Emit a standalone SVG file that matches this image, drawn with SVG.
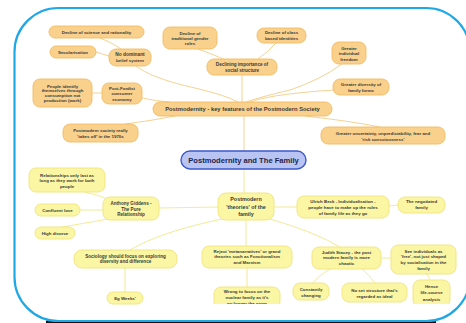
<svg xmlns="http://www.w3.org/2000/svg" width="466" height="323" viewBox="0 0 466 323">
<style>
text{font-family:"Liberation Sans",Arial,sans-serif;font-weight:bold;fill:#3a3a3a;text-anchor:middle;font-size:4.4px}
.o rect{fill:#f9d18c;stroke:#f2bb62;stroke-width:0.9}
.y rect{fill:#fbf6a4;stroke:#f0e47a;stroke-width:0.9}
.c rect{fill:#b9c4f2;stroke:#3c58cf;stroke-width:1.4}
.lo{fill:none;stroke:#f0c676;stroke-width:0.8}
.ly{fill:none;stroke:#efe47c;stroke-width:0.8}
</style>
<defs>
<clipPath id="cut"><rect x="0" y="0" width="466" height="304"/></clipPath>
</defs>
<rect x="0" y="0" width="466" height="323" fill="#fff"/>
<rect x="46" y="320.5" width="390" height="2.5" fill="#111"/>
<rect x="14.5" y="8" width="455.5" height="313" rx="44" fill="#fff" stroke="#1ea8e8" stroke-width="2.2"/>

<g id="connectors">
<path class="lo" d="M100 38 Q115 44 122 50"/>
<path class="lo" d="M96 52 L109 56"/>
<path class="lo" d="M135 65 Q150 78 195 88 Q225 95 238 102"/>
<path class="lo" d="M198 49 Q215 55 225 60"/>
<path class="lo" d="M276 43 Q268 52 258 59"/>
<path class="lo" d="M242 75 L242 102"/>
<path class="lo" d="M342 64 Q320 80 290 90 Q260 97 246 102"/>
<path class="lo" d="M335 90 Q300 92 275 96 Q258 99 250 102"/>
<path class="lo" d="M142 98 Q155 101 170 102"/>
<path class="lo" d="M92 93 L102 93"/>
<path class="lo" d="M175 116 Q150 121 125 124"/>
<path class="lo" d="M305 116 Q350 121 380 127"/>
<path class="lo" d="M244 116 L244 151"/>
<path class="ly" d="M244 169 L244 193"/>
<path class="ly" d="M218 207 L159 208"/>
<path class="ly" d="M108 199 Q95 194 85 192"/>
<path class="ly" d="M103 210 L80 210"/>
<path class="ly" d="M108 219 Q80 224 62 227"/>
<path class="ly" d="M274 207 L297 207"/>
<path class="ly" d="M389 206 L398 205"/>
<path class="ly" d="M222 219 Q160 232 130 250"/>
<path class="ly" d="M125 268 L125 292"/>
<path class="ly" d="M246 220 L246 246"/>
<path class="ly" d="M247 268 L247 287"/>
<path class="ly" d="M270 219 Q315 232 340 247"/>
<path class="ly" d="M381 258 L391 258"/>
<path class="ly" d="M330 269 Q318 276 313 283"/>
<path class="ly" d="M362 269 Q370 276 375 283"/>
<path class="ly" d="M427 274 L430 280"/>
</g>

<g id="n-science" class="o"><rect x="49" y="26" width="95" height="12" rx="6"/><text x="96.5" y="33.6">Decline of science and rationality</text></g>
<g id="n-secular" class="o"><rect x="50" y="46" width="46" height="12" rx="6"/><text x="73" y="53.6">Secularisation</text></g>
<g id="n-belief" class="o"><rect x="109" y="49" width="42" height="17" rx="7"/><text x="130" y="55.5" style="font-size:4.8px">No dominant</text><text x="130" y="62">belief system</text></g>
<g id="n-gender" class="o"><rect x="163" y="27" width="54" height="22" rx="7"/><text x="190" y="34.5">Decline of</text><text x="190" y="39.5">traditional gender</text><text x="190" y="44.5">roles</text></g>
<g id="n-social" class="o"><rect x="207" y="59" width="70" height="16" rx="7"/><text x="242" y="65.6" style="font-size:4.6px">Declining importance of</text><text x="242" y="71.6" style="font-size:4.6px">social structure</text></g>
<g id="n-class" class="o"><rect x="257" y="28" width="49" height="15" rx="7"/><text x="281.5" y="34">Decline of class</text><text x="281.5" y="40">based identities</text></g>
<g id="n-freedom" class="o"><rect x="332" y="42" width="34" height="22" rx="7"/><text x="349" y="49.5">Greater</text><text x="349" y="55.3">individual</text><text x="349" y="61.1">freedom</text></g>
<g id="n-diversity" class="o"><rect x="333" y="79" width="56" height="16" rx="7"/><text x="361" y="86.2">Greater diversity of</text><text x="361" y="91.6">family forms</text></g>
<g id="n-keyfeatures" class="o"><rect x="153" y="102" width="179" height="14" rx="7"/><text x="242.5" y="111.1" style="font-size:5.8px">Postmodernity - key features of the Postmodern Society</text></g>
<g id="n-identify" class="o"><rect x="33" y="79" width="59" height="28" rx="7"/><text x="62.5" y="87.6">People identify</text><text x="62.5" y="92.3">themselves through</text><text x="62.5" y="97">consumption not</text><text x="62.5" y="101.7">production (work)</text></g>
<g id="n-fordist" class="o"><rect x="102" y="83" width="40" height="21" rx="7"/><text x="122" y="89.6">Post-Fordist</text><text x="122" y="95.1">consumer</text><text x="122" y="100.6">economy</text></g>
<g id="n-1970s" class="o"><rect x="63" y="124" width="75" height="18" rx="7"/><text x="100.5" y="131.6">Postmodern society really</text><text x="100.5" y="137.6">'takes off' in the 1970s</text></g>
<g id="n-uncertainty" class="o"><rect x="321" y="127" width="124" height="17" rx="7"/><text x="383" y="134.6">Greater uncertainty, unpredictability, fear and</text><text x="383" y="140.6">'risk consciousness'</text></g>

<g id="n-center" class="c"><rect x="181" y="151" width="125" height="18" rx="9"/><text x="243.5" y="162.7" style="font-size:7.6px;fill:#1c2450">Postmodernity and The Family</text></g>

<g id="n-relationships" class="y"><rect x="29" y="168" width="76" height="24" rx="7"/><text x="67" y="176.6">Relationships only last as</text><text x="67" y="182.1">long as they work for both</text><text x="67" y="187.6">people</text></g>
<g id="n-giddens" class="y"><rect x="103" y="197" width="56" height="23" rx="7"/><text x="131" y="205" style="font-size:4.6px">Anthony Giddens -</text><text x="131" y="210.7" style="font-size:4.6px">The Pure</text><text x="131" y="216.4" style="font-size:4.6px">Relationship</text></g>
<g id="n-confluent" class="y"><rect x="35" y="204" width="45" height="12" rx="6"/><text x="57.5" y="211.6">Confluent love</text></g>
<g id="n-divorce" class="y"><rect x="35" y="227" width="40" height="12" rx="6"/><text x="55" y="234.6">High divorce</text></g>
<g id="n-theories" class="y"><rect x="218" y="193" width="56" height="27" rx="8"/><text x="246" y="201.4" style="font-size:5.4px">Postmodern</text><text x="246" y="208.7" style="font-size:5.4px">'theories' of the</text><text x="246" y="216" style="font-size:5.4px">family</text></g>
<g id="n-beck" class="y"><rect x="297" y="196" width="92" height="22" rx="7"/><text x="343" y="202.5">Ulrich Beck - Individualisation -</text><text x="343" y="208.5">people have to make up the rules</text><text x="343" y="214.5">of family life as they go</text></g>
<g id="n-negotiated" class="y"><rect x="398" y="197" width="47" height="16" rx="7"/><text x="421.5" y="203">The negotiated</text><text x="421.5" y="208.6">family</text></g>
<g id="n-sociology" class="y"><rect x="74" y="250" width="103" height="18" rx="8"/><text x="125.5" y="257.6" style="font-size:4.6px">Sociology should focus on exploring</text><text x="125.5" y="263.3" style="font-size:4.6px">diversity and difference</text></g>
<g id="n-weeks" class="y"><rect x="107" y="292" width="36" height="12" rx="6"/><text x="125" y="299.6">Eg Weeks'</text></g>
<g id="n-reject" class="y"><rect x="202" y="246" width="90" height="22" rx="7"/><text x="247" y="252.6">Reject 'metanarratives' or grand</text><text x="247" y="258.3">theories such as Functionalism</text><text x="247" y="264">and Marxism</text></g>
<g id="n-wrong" class="y" clip-path="url(#cut)"><rect x="214" y="287" width="66" height="22" rx="7"/><text x="247" y="293.3">Wrong to focus on the</text><text x="247" y="299">nuclear family as it's</text><text x="247" y="304.7">no longer the norm</text></g>
<g id="n-stacey" class="y"><rect x="312" y="247" width="69" height="22" rx="7"/><text x="346.5" y="253.9">Judith Stacey - the post</text><text x="346.5" y="259.3">modern family is more</text><text x="346.5" y="264.9">chaotic</text></g>
<g id="n-free" class="y"><rect x="391" y="245" width="65" height="29" rx="7"/><text x="423.5" y="252.6">See individuals as</text><text x="423.5" y="258.3">'free', not just shaped</text><text x="423.5" y="263.9">by socialisation in the</text><text x="423.5" y="269.9">family</text></g>
<g id="n-changing" class="y"><rect x="293" y="283" width="36" height="17" rx="7"/><text x="311" y="290.9">Constantly</text><text x="311" y="297.3">changing</text></g>
<g id="n-noset" class="y"><rect x="342" y="283" width="65" height="19" rx="7"/><text x="374.5" y="291.6">No set structure that's</text><text x="374.5" y="298.3">regarded as ideal</text></g>
<g id="n-lifecourse" class="y" clip-path="url(#cut)"><rect x="413" y="280" width="37" height="27" rx="7"/><text x="431.5" y="288.3">Hence</text><text x="431.5" y="294.3">life-course</text><text x="431.5" y="300.6">analysis</text></g>
</svg>
